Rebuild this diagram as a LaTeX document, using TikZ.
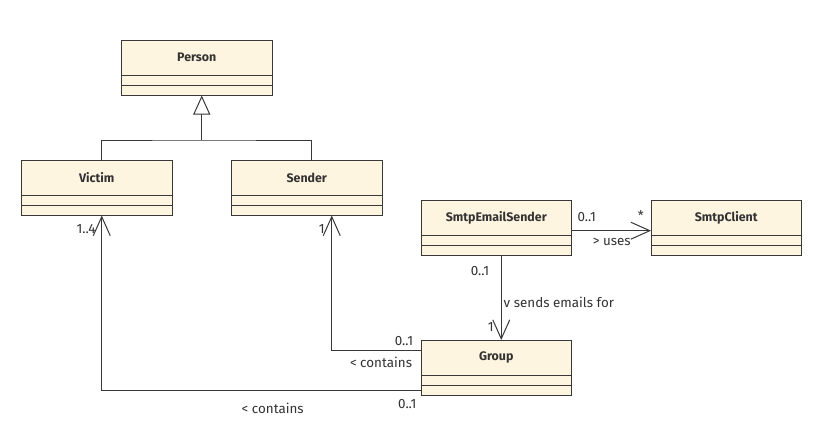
\documentclass[tikz,border=0pt]{standalone}
\usepackage{fontspec}
\setmainfont{Fira Sans}
\usetikzlibrary{arrows.meta,calc}
\definecolor{boxfill}{HTML}{FEF5E1}
\definecolor{linec}{HTML}{383838}
\definecolor{txtc}{HTML}{333333}
\tikzset{
  classbox/.style={draw=linec, fill=boxfill, line width=1pt, rectangle, minimum width=150.5pt, minimum height=55.5pt, inner sep=0pt, outer sep=0pt},
  classname/.style={font=\fontsize{12.4}{14}\selectfont\bfseries, text=txtc, inner sep=0pt},
  lbl/.style={font=\fontsize{13.4}{15}\selectfont, text=txtc, inner sep=0pt},
  assoc/.style={draw=linec, line width=1pt, -{Straight Barb[length=19pt,width=17pt,line width=1pt]}},
  gen/.style={draw=linec, line width=1pt, -{Triangle[open,length=19pt,width=17pt,line width=1pt,fill=white]}},
  plain/.style={draw=linec, line width=1pt}
}
\newcommand\umlclass[4]{%
  \node[classbox, anchor=north west] (#1) at (#2,#3) {};
  \draw[plain] ($(#1.north west)+(0,35)$) -- ($(#1.north east)+(0,35)$);
  \draw[plain] ($(#1.north west)+(0,45.5)$) -- ($(#1.north east)+(0,45.5)$);
  \node[classname] (#1-name) at ($(#1.north)+(0,17.5)$) {#4};
}
\begin{document}
\begin{tikzpicture}[x=1pt,y=-1pt]
\fill[white] (0,0) rectangle (822,437);
\useasboundingbox (0,0) rectangle (822,437);
\umlclass{person}{121.5}{40}{Person}
\umlclass{victim}{21.5}{160}{Victim}
\umlclass{sender}{231.5}{160}{Sender}
\umlclass{smtp}{421}{200}{SmtpEmailSender}
\umlclass{client}{651}{200}{SmtpClient}
\umlclass{group}{421}{340}{Group}
% generalization
\coordinate (joint) at ($(person.south)+(5,44.5)$);
\draw[plain] ($(victim.north)+(5,0)$) |- (joint) -| ($(sender.north)+(5,0)$);
\draw[gen] (joint) -- ($(person.south)+(5,0)$);
% uses
\draw[assoc] ($(smtp.north east)+(0,30.7)$) -- ($(client.north west)+(0,30.7)$);
\node[lbl] (l1) at (586.7,217) {0..1};
\node[lbl] (l2) at (640.7,216) {*};
\node[lbl] (l3) at (611.7,242.3) {> uses};
% sends emails for
\draw[assoc] ($(smtp.south)+(5,0)$) -- ($(group.north)+(5,0)$);
\node[lbl] (l4) at (480,270.7) {0..1};
\node[lbl, anchor=west] (l5) at (503.5,302.3) {v sends emails for};
\node[lbl] (l6) at (490.7,326.7) {1};
% group - sender
\draw[assoc] ($(group.north west)+(0,10)$) -| ($(sender.south)+(25,0)$);
\node[lbl] (l7) at (321.7,229.3) {1};
\node[lbl] (l8) at (404,340.7) {0..1};
\node[lbl] (l9) at (381,362.7) {< contains};
% group - victim
\draw[assoc] ($(group.north west)+(0,50.7)$) -| ($(victim.south)+(5,0)$);
\node[lbl] (l10) at (86,229.3) {1..4};
\node[lbl] (l11) at (407.3,404) {0..1};
\node[lbl] (l12) at (272.7,408.3) {< contains};
\end{tikzpicture}
\end{document}
